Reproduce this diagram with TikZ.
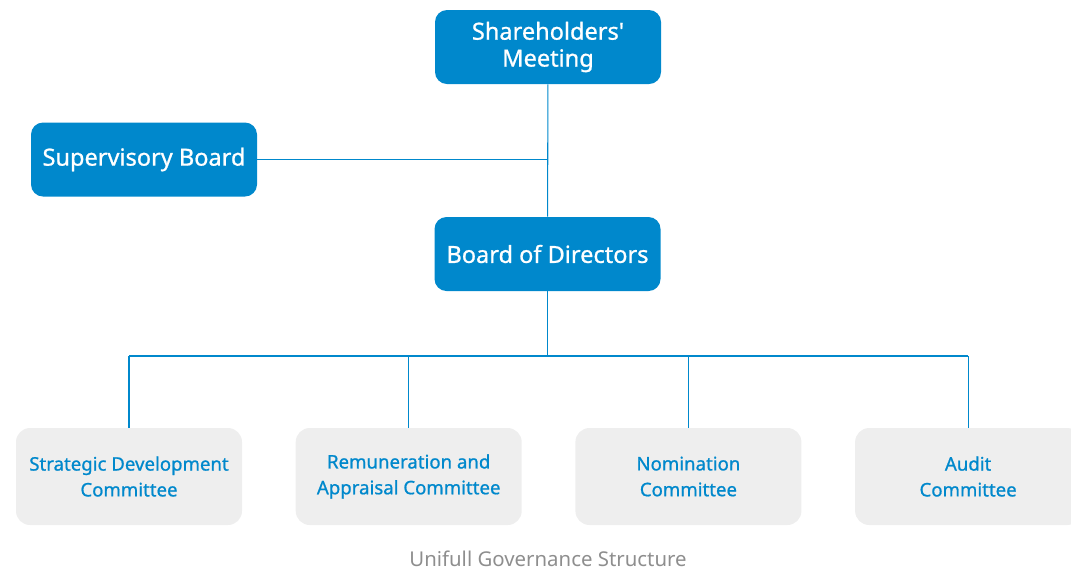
\documentclass[tikz,border=0pt]{standalone}
\usepackage{fontspec}
\setmainfont{Noto Sans}
\newfontfamily\boxfont{Noto Sans}[FakeBold=0.9]
\usetikzlibrary{positioning}
\definecolor{govblue}{HTML}{0088CC}
\definecolor{govgray}{HTML}{EEEEEE}
\definecolor{captiongray}{HTML}{8E8E8E}
\tikzset{%
  % Specifications for style of nodes:
        base/.style = {rectangle, rounded corners=0.24cm, minimum width=4.52cm,
                       text centered, align=center, inner sep=0pt},
      organ/.style = {base, fill=govblue, text=white, minimum height=1.48cm,
                       font=\boxfont\fontsize{13.4}{15.3}\selectfont},
  committee/.style = {base, fill=govgray, text=govblue, minimum height=1.94cm,
                       rounded corners=0.28cm, font=\boxfont\fontsize{10.6}{14.7}\selectfont},
       link/.style = {draw=govblue, line width=0.6pt},
}

\begin{document}
\begin{tikzpicture}[node distance=1.06cm]
    \useasboundingbox (0,0) rectangle (21.42,-11.48);

    \node (share) [organ] at (10.96,-0.94) {Shareholders'\\Meeting};
    \node (super) [organ] at (2.88,-3.19) {Supervisory Board};
    \node (board) [organ] at (10.95,-5.08) {Board of Directors};

    \node (strat) [committee] at (2.58,-9.53) {Strategic Development\\Committee};
    \node (remun) [committee, right = of strat] {Remuneration and\\Appraisal Committee};
    \node (nomin) [committee, right = of remun] {Nomination\\Committee};
    \node (audit) [committee, right = of nomin] {Audit\\Committee};

    \coordinate (bus) at (10.95,-7.12);

    \draw [link] (share) -- (board);
    \draw [link] (super.east) -- (super.east -| share);
    \draw [link] (board) -- (bus);
    \draw [link] (bus -| strat) -- (bus -| audit);
    \foreach \c in {strat,remun,nomin,audit}
        \draw [link] (bus -| \c) -- (\c.north);

    \node (caption) [text=captiongray, font=\fontsize{11.6}{13}\selectfont]
        at (10.96,-11.18) {Unifull Governance Structure};
\end{tikzpicture}
\end{document}
